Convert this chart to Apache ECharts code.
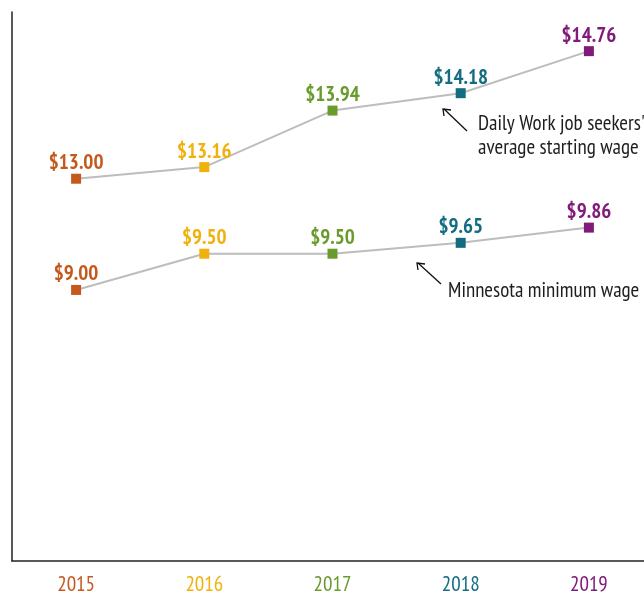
<!DOCTYPE html>
<html><head><meta charset="utf-8">
<script src="https://cdn.jsdelivr.net/npm/echarts@6/dist/echarts.min.js"></script>
<style>html,body{margin:0;padding:0;background:#fff;overflow:hidden;width:644px;height:595px}#c{width:653px;height:595px}</style>
</head><body><div id="c"></div>
<script>
const years = ['2015','2016','2017','2018','2019'];
const dailyWorkWage = [13.00, 13.16, 13.94, 14.18, 14.76];
const minimumWage = [9.00, 9.50, 9.50, 9.65, 9.86];
const yearColors = ['#c5591d','#f1b10d','#6a9b2d','#136c80','#801b7b'];

const FONT = '"Liberation Sans Narrow", "PT Sans Narrow", "DejaVu Sans Condensed", sans-serif';

function items(vals){
  return vals.map((v,i)=>({
    value: v,
    itemStyle: {color: yearColors[i]},
    label: {color: yearColors[i]}
  }));
}
const chart = echarts.init(document.getElementById('c'), null, {renderer:'canvas'});
const seriesBase = {
  type: 'line',
  symbol: 'rect',
  symbolSize: 10,
  lineStyle: {color: '#bdbdbd', width: 2},
  label: {
    show: true, position: 'top', distance: 0,
    fontFamily: FONT, fontWeight: 'bold', fontSize: 21,
    formatter: p => '$' + p.value.toFixed(2)
  },
  emphasis: {disabled: true},
  animation: false,
  z: 3
};
chart.setOption({
  animation: false,
  grid: {left: 12, right: 0, top: 12, bottom: 30},
  xAxis: {
    type: 'category', data: years, boundaryGap: true,
    axisLine: {lineStyle: {color: '#222', width: 1.5}},
    axisTick: {show: false},
    axisLabel: {
      margin: 13, fontFamily: FONT, fontSize: 21,
      color: (val, idx) => yearColors[idx]
    }
  },
  yAxis: [
    {type: 'value', min: 7.726, max: 15.30, position: 'left',
     axisLine: {show: true, lineStyle: {color: '#222', width: 1.5}},
     axisTick: {show: false}, axisLabel: {show: false}, splitLine: {show: false}},
    {type: 'value', min: 5.26, max: 12.835, position: 'left',
     axisLine: {show: false}, axisTick: {show: false}, axisLabel: {show: false}, splitLine: {show: false}}
  ],
  series: [
    Object.assign({}, seriesBase, {name: "Daily Work job seekers' average starting wage", yAxisIndex: 0, data: items(dailyWorkWage)}),
    Object.assign({}, seriesBase, {name: 'Minnesota minimum wage', yAxisIndex: 1, data: items(minimumWage)})
  ],
  graphic: [
    {type: 'text', left: 478, top: 112, style: {text: "Daily Work job seekers'\naverage starting wage", font: '21px ' + FONT, fill: '#1e1e1e', lineHeight: 24}},
    {type: 'line', shape: {x1: 467, y1: 131, x2: 444, y2: 109}, style: {stroke: '#111', lineWidth: 1.3}},
    {type: 'polyline', shape: {points: [[444,116],[443,109],[451,110]]}, style: {stroke: '#111', lineWidth: 1.3, fill: null}},
    {type: 'text', left: 448, top: 280, style: {text: 'Minnesota minimum wage', font: '21px ' + FONT, fill: '#1e1e1e'}},
    {type: 'line', shape: {x1: 441, y1: 284, x2: 418, y2: 263}, style: {stroke: '#111', lineWidth: 1.3}},
    {type: 'polyline', shape: {points: [[418,270],[417,263],[425,264]]}, style: {stroke: '#111', lineWidth: 1.3, fill: null}}
  ]
});
</script></body></html>
